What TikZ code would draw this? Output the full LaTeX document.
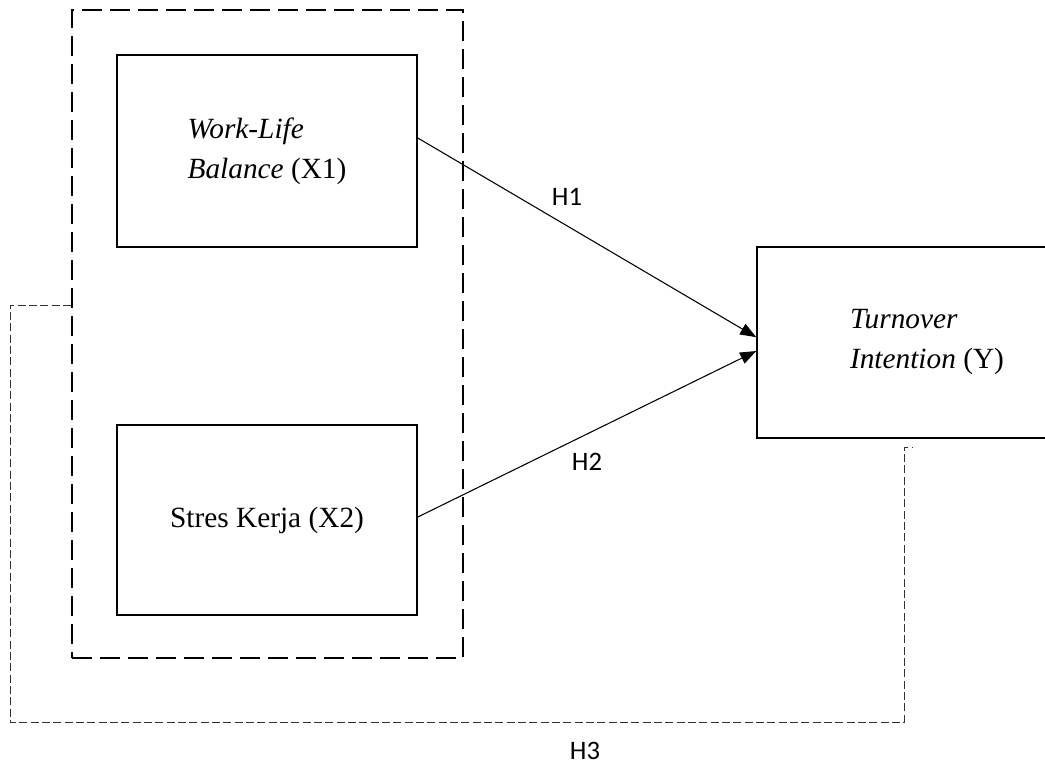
\documentclass[tikz,border=0pt]{standalone}
\usepackage{fontspec}
\setmainfont{Liberation Serif}
\newfontfamily\hfont{Carlito}
\usetikzlibrary{arrows.meta}

\begin{document}
\begin{tikzpicture}[x=0.75pt,y={(0,-0.75pt)},
  boite/.style={draw,line width=1.2pt,align=left,inner sep=0pt,
    font=\fontsize{22}{30}\selectfont},
  fleche/.style={line width=0.8pt,-{Triangle[length=12pt,width=9pt]}},
  hyp/.style={font=\hfont\fontsize{20}{22}\selectfont}]

\useasboundingbox (0,0) rectangle (1045,765);

% Cadre en pointillés
\node[draw,line width=1.6pt,dash pattern=on 15pt off 6pt,
  minimum width=293.25pt,minimum height=486pt] (cadre) at (267.5,334) {};

% Variables
\node[boite,minimum width=225pt,minimum height=144pt] (x1) at (267,151)
  {\textit{Work-Life}\\\textit{Balance} (X1)};
\node[boite,minimum width=225pt,minimum height=142.5pt] (x2) at (267,520)
  {Stres Kerja (X2)};
\node[boite,minimum width=255pt,minimum height=143.25pt] (y) at (927,342.5)
  {\textit{Turnover}\\\textit{Intention} (Y)};

% Flèches H1 et H2
\draw[fleche] ([yshift=9.75pt]x1.east) -- ([yshift=4pt]y.west);
\draw[fleche] ([yshift=2.25pt]x2.east) -- ([yshift=-6.4pt]y.west);

% Ligne pointillée H3
\coordinate (h3a) at (10,722);
\coordinate (h3b) at (904,722);
\coordinate (h3c) at (912,447);
\draw[line width=0.75pt,black!80,dash pattern=on 6pt off 2.5pt]
  ([yshift=21.75pt]cadre.west) -| (h3a) -- (h3b) |- (h3c);

% Noms des hypothèses
\node[hyp] (h1) at (567,197) {H1};
\node[hyp] (h2) at (587,462) {H2};
\node[hyp] (h3) at (585,751) {H3};

\end{tikzpicture}
\end{document}
